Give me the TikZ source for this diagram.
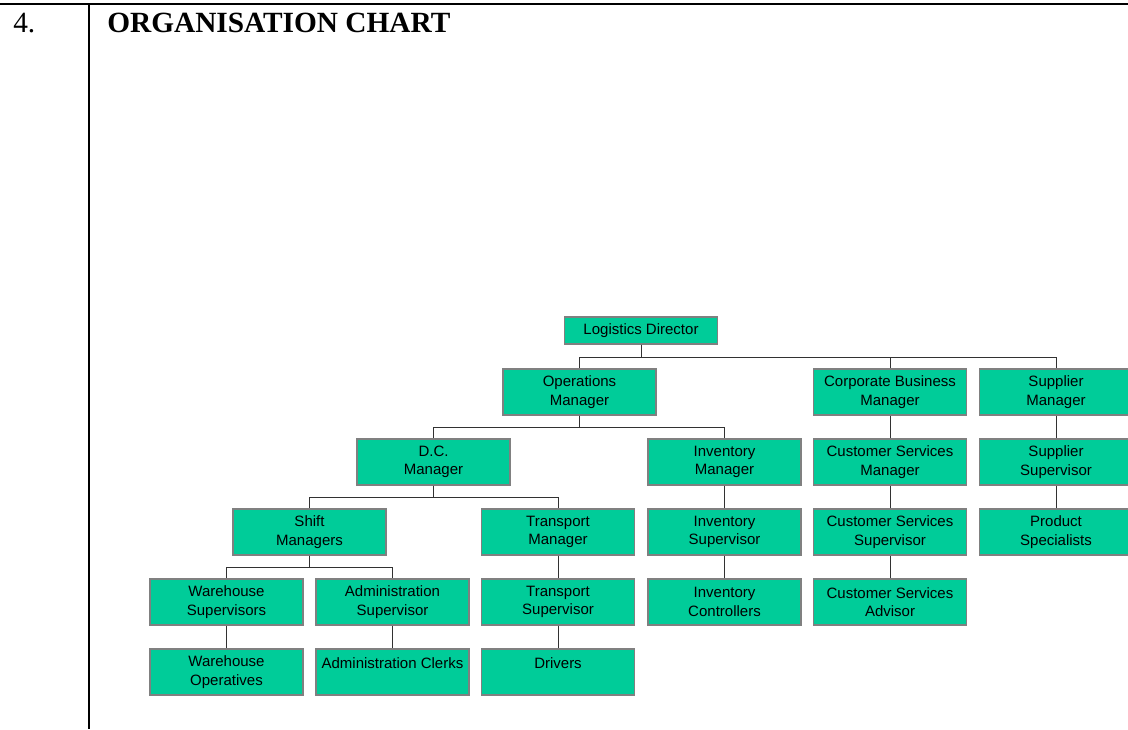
\documentclass[tikz,border=0pt]{standalone}
\usepackage{fontspec}
\setmainfont{Liberation Serif}
\newfontfamily\boxfont{Liberation Sans}

\definecolor{boxgreen}{RGB}{0,204,153}
\definecolor{boxedge}{RGB}{128,128,128}
\definecolor{linkgray}{RGB}{50,50,50}

\begin{document}
\begin{tikzpicture}[x=0.75pt,y=-0.75pt,
    post/.style={draw=boxedge, line width=0.9pt, fill=boxgreen,
        minimum width=114.75pt, minimum height=34.5pt, inner sep=0pt,
        align=center, font=\boxfont\fontsize{11.25}{13.75}\selectfont},
    link/.style={draw=linkgray, line width=0.75pt}]
        \useasboundingbox (0,0) rectangle (1128,729);

        % frame and heading
        \draw[black, line width=1.5pt] (0,4) -- (1128,4);
        \draw[black, line width=1.8pt] (89,4) -- (89,729);
        \node[anchor=base west, inner sep=0pt, font=\fontsize{22}{26}\selectfont] (num) at (13,32.5) {4.};
        \node[anchor=base west, inner sep=0pt, font=\bfseries\fontsize{22}{26}\selectfont] (title) at (107,32.5) {ORGANISATION CHART};

        % boxes
        \node[post, minimum height=20.25pt] (ld) at (641,330.5) {Logistics Director};
        \node[post] (ops) at (579.5,392) {Operations\\Manager};
        \node[post] (corp) at (890,392) {Corporate Business\\Manager};
        \node[post] (supm) at (1056,392) {Supplier\\Manager};
        \node[post] (dc) at (433.5,462) {D.C.\\Manager};
        \node[post] (invm) at (724.5,462) {Inventory\\Manager};
        \node[post] (csm) at (890,462) {Customer Services\\Manager};
        \node[post] (sups) at (1056,462) {Supplier\\Supervisor};
        \node[post] (shift) at (309.5,532) {Shift\\Managers};
        \node[post] (trm) at (558,532) {Transport\\Manager};
        \node[post] (invs) at (724.5,532) {Inventory\\Supervisor};
        \node[post] (css) at (890,532) {Customer Services\\Supervisor};
        \node[post] (prod) at (1056,532) {Product\\Specialists};
        \node[post] (whs) at (226.5,602) {Warehouse\\Supervisors};
        \node[post] (adms) at (392.5,602) {Administration\\Supervisor};
        \node[post] (trs) at (558,602) {Transport\\Supervisor};
        \node[post] (invc) at (724.5,602) {Inventory\\Controllers};
        \node[post] (csa) at (890,602) {Customer Services\\Advisor};
        \node[post] (who) at (226.5,672) {Warehouse\\Operatives};
        \node[post] (admc) at (392.5,672) {Administration Clerks\\\mbox{}};
        \node[post] (drv) at (558,672) {Drivers\\\mbox{}};

        % connectors
        \draw[link] (ld.south) -- ++(0,12.5) -| (ops.north);
        \draw[link] (ld.south) -- ++(0,12.5) -| (corp.north);
        \draw[link] (ld.south) -- ++(0,12.5) -| (supm.north);
        \draw[link] (ops.south) -- ++(0,12) -| (dc.north);
        \draw[link] (ops.south) -- ++(0,12) -| (invm.north);
        \draw[link] (dc.south) -- ++(0,12) -| (shift.north);
        \draw[link] (dc.south) -- ++(0,12) -| (trm.north);
        \draw[link] (shift.south) -- ++(0,12) -| (whs.north);
        \draw[link] (shift.south) -- ++(0,12) -| (adms.north);
        \draw[link] (corp) -- (csm) -- (css) -- (csa);
        \draw[link] (supm) -- (sups) -- (prod);
        \draw[link] (invm) -- (invs) -- (invc);
        \draw[link] (trm) -- (trs) -- (drv);
        \draw[link] (whs) -- (who);
        \draw[link] (adms) -- (admc);
    \end{tikzpicture}
\end{document}
